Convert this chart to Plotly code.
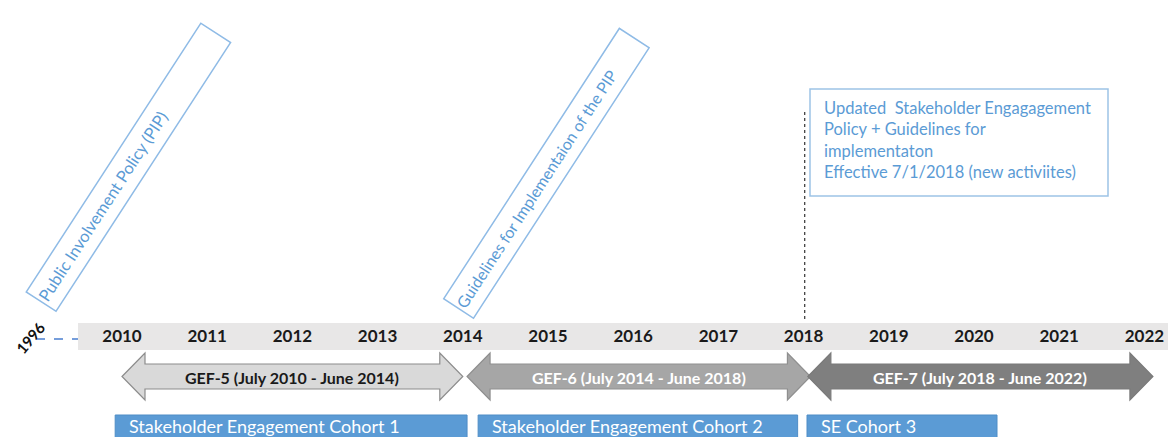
import plotly.graph_objects as go

# ---- data ----
years = list(range(2010, 2023))
origin_year = "1996"

gef_labels = ["GEF-5 (July 2010 - June 2014)", "GEF-6 (July 2014 - June 2018)", "GEF-7 (July 2018 - June 2022)"]
gef_start = [2010.0, 2014.05, 2018.05]
gef_end = [2014.0, 2018.08, 2022.1]

cohort_labels = ["Stakeholder Engagement Cohort 1", "Stakeholder Engagement Cohort 2", "SE Cohort 3"]
cohort_start = [2009.92, 2014.18, 2018.04]
cohort_end = [2014.05, 2017.93, 2020.27]

milestone_pip = "Public Involvement Policy (PIP)"
milestone_guidelines = "Guidelines for Implementaion of the PIP"
milestone_update = ["Updated  Stakeholder Engagagement", "Policy + Guidelines for", "implementaton",
                    "Effective 7/1/2018 (new activiites)"]
update_year = 2018.06

# ---- layout helpers (page pixels; the page body has an 8px margin) ----
PAGE_W, PAGE_H, OFF = 1176, 445, 8
W, H = PAGE_W - 2 * OFF, PAGE_H - 2 * OFF
PX_PER_YEAR = 85.2
X0 = 2010 - (122 - OFF) / PX_PER_YEAR


def px2x(px):
    return X0 + (px - OFF) / PX_PER_YEAR


FONT = "Lato, 'Open Sans', sans-serif"
BLUE_TXT = "#5b9bd5"

fig = go.Figure()
shapes = []
annotations = []

# gray band
shapes.append(dict(type="rect", xref="x", yref="y", x0=px2x(78), x1=px2x(PAGE_W + 5), y0=323, y1=350,
                   fillcolor="#e8e7e7", line_width=0, layer="below"))
# dashed line from 1996
shapes.append(dict(type="line", xref="x", yref="y", x0=px2x(36), x1=px2x(78), y0=339, y1=339,
                   line=dict(color="#4a7fd0", width=1.5, dash="dash")))

# year labels
fig.add_trace(go.Scatter(x=years, y=[338] * len(years), mode="text", text=[str(y) for y in years],
                         textfont=dict(family=FONT, size=17, color="#1a1a1a", weight="bold"),
                         hoverinfo="skip", showlegend=False))

annotations.append(dict(x=px2x(30), y=338, xref="x", yref="y", text="<b>" + origin_year + "</b>",
                        showarrow=False, textangle=-50, font=dict(family=FONT, size=15, color="#111")))

# GEF arrows
fills = ["#d9d9d9", "#a6a6a6", "#7f7f7f"]
lines = ["#8c8c8c", "#8f8f8f", "#7a7a7a"]
txtc = ["#1a1a1a", "white", "white"]
head = 23 / PX_PER_YEAR
yc, ht, hb, st, sb = 376.5, 353, 400, 364, 389
for lab, s, e, f, lc, tc in zip(gef_labels, gef_start, gef_end, fills, lines, txtc):
    p = (f"M {s},{yc} L {s+head},{ht} L {s+head},{st} L {e-head},{st} L {e-head},{ht} L {e},{yc} "
         f"L {e-head},{hb} L {e-head},{sb} L {s+head},{sb} L {s+head},{hb} Z")
    shapes.append(dict(type="path", xref="x", yref="y", path=p, fillcolor=f, line=dict(color=lc, width=1.2)))
    annotations.append(dict(x=(s + e) / 2, y=377.5, xref="x", yref="y", text="<b>" + lab + "</b>",
                            showarrow=False, font=dict(family=FONT, size=16, color=tc)))

# cohort boxes
for lab, s, e in zip(cohort_labels, cohort_start, cohort_end):
    shapes.append(dict(type="rect", xref="x", yref="y", x0=s, x1=e, y0=415, y1=PAGE_H + 10,
                       fillcolor="#5b9bd5", line=dict(color="#4f8dc6", width=1)))
    annotations.append(dict(x=s + 12 / PX_PER_YEAR, y=426, xref="x", yref="y", text=lab, xanchor="left",
                            showarrow=False, font=dict(family=FONT, size=18, color="white")))

# rotated milestone boxes
for txt, cx, cy, L, fs in [(milestone_pip, 128, 167, 329, 16.5), (milestone_guidelines, 546, 173, 331, 16)]:
    annotations.append(dict(x=px2x(cx), y=cy, xref="x", yref="y", text=txt, showarrow=False,
                            textangle=-57, width=L - 14, height=30, align="left", valign="middle",
                            bordercolor="#8fbbe6", borderwidth=1.5, borderpad=2, bgcolor="rgba(0,0,0,0)",
                            font=dict(family=FONT, size=fs, color=BLUE_TXT)))

# update box
shapes.append(dict(type="rect", xref="x", yref="y", x0=px2x(810), x1=px2x(1108), y0=89, y1=196,
                   fillcolor="white", line=dict(color="#9dc3e6", width=1.5)))
annotations.append(dict(x=px2x(822), y=140, xref="x", yref="y", text="<br>".join(milestone_update),
                        xanchor="left", yanchor="middle", align="left", showarrow=False,
                        font=dict(family=FONT, size=16.5, color=BLUE_TXT)))
# dotted vertical line
shapes.append(dict(type="line", xref="x", yref="y", x0=update_year - 4 / PX_PER_YEAR,
                   x1=update_year - 4 / PX_PER_YEAR, y0=112, y1=321,
                   line=dict(color="#333", width=1.2, dash="dot")))

fig.update_layout(
    width=W, height=H, margin=dict(l=0, r=0, t=0, b=0),
    paper_bgcolor="white", plot_bgcolor="white",
    xaxis=dict(range=[px2x(OFF), px2x(OFF + W)], visible=False, fixedrange=True),
    yaxis=dict(range=[OFF + H, OFF], visible=False, fixedrange=True),
    shapes=shapes, annotations=annotations, showlegend=False,
)
fig.write_html("out.html")
